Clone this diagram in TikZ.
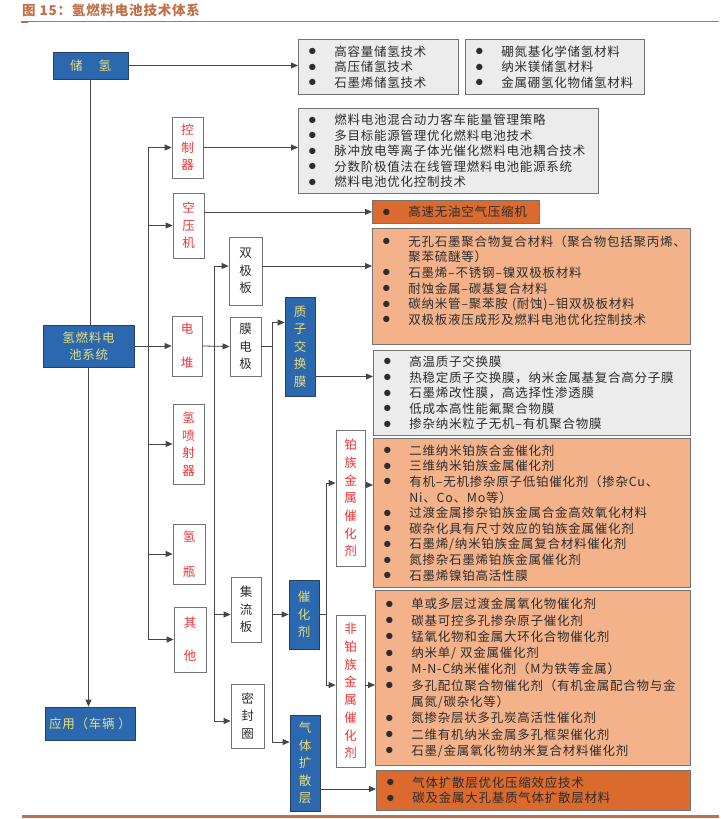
\documentclass[tikz,border=0pt]{standalone}
\usepackage{fontspec}
\usetikzlibrary{arrows.meta}
\newfontfamily\cjk{Noto Sans CJK SC}[LetterSpace=6]
\definecolor{barblue}{RGB}{44,104,176}
\definecolor{bluedark}{RGB}{40,64,100}
\definecolor{baryellow}{RGB}{232,222,120}
\definecolor{sidered}{RGB}{240,52,52}
\definecolor{inkgray}{RGB}{45,45,45}
\definecolor{boxgray}{RGB}{115,115,115}
\definecolor{linegray}{RGB}{70,70,70}
\definecolor{listgrey}{RGB}{236,236,236}
\definecolor{paleorange}{RGB}{244,178,138}
\definecolor{darkorange}{RGB}{218,106,46}
\definecolor{titlebrown}{RGB}{192,112,72}
\newcommand{\bitem}[1]{\makebox[26pt][l]{\raisebox{.5pt}{\scalebox{1.35}{$\bullet$}}}#1}
\newcommand{\bcont}[1]{\hspace*{26pt}#1}
\tikzset{
  ln/.style={draw=linegray, line width=.8pt},
  arr/.style={ln, -{Triangle[length=7pt,width=6pt]}},
  sidebox/.style={draw=boxgray, fill=white, line width=.8pt, inner sep=0pt, align=center, text=inkgray, font={\cjk\fontsize{12.5}{17.5}\selectfont}},
  redtxt/.style={text=sidered},
  bluebox/.style={sidebox, fill=barblue, draw=bluedark, text=baryellow},
  listbox/.style={anchor=north west, inner xsep=10pt, inner ysep=0pt, align=left, line width=.8pt, text=inkgray, font={\cjk\fontsize{12.5}{15.6}\selectfont}},
  greylist/.style={listbox, fill=listgrey, draw=boxgray},
  palelist/.style={listbox, fill=paleorange, draw=boxgray},
  darklist/.style={listbox, fill=darkorange, draw=boxgray}
}
\begin{document}
\begin{tikzpicture}[x=1pt,y=-1pt]
\path[fill=white] (0,0) rectangle (719,819);
\node[anchor=base west, inner sep=0pt, text=titlebrown, font={\cjk\bfseries\fontsize{13.5}{14}\selectfont}] (title) at (22,15) {图 15：氢燃料电池技术体系};
\draw[titlebrown, line width=.8pt] (22,21.5) -- (719,21.5);
\draw[titlebrown, line width=2pt] (21,21.5) -- (28,21.5);
\draw[titlebrown, line width=3pt] (22,816.5) -- (719,816.5);

\node[bluebox, minimum width=75pt, minimum height=27pt] (storage) at (90.5,65.5) {储\hspace{16pt}氢};
\node[bluebox, minimum width=91pt, minimum height=42pt] (system) at (88.5,346) {氢燃料电\\池系统};
\node[bluebox, minimum width=90pt, minimum height=33pt] (apply) at (90,723.5) {应用（车辆 ）};

\node[sidebox, redtxt, minimum width=31pt, minimum height=61pt] (ctrl) at (187.5,147.5) {控\\制\\器};
\node[sidebox, redtxt, minimum width=31pt, minimum height=65pt] (aircomp) at (188.5,225.5) {空\\压\\机};
\node[sidebox, redtxt, minimum width=30pt, minimum height=60pt] (stack) at (187,346) {电\\[16.5pt]堆};
\node[sidebox, redtxt, minimum width=31pt, minimum height=80pt] (injector) at (188.5,444) {氢\\喷\\射\\器};
\node[sidebox, redtxt, minimum width=32pt, minimum height=60pt] (bottle) at (189,554) {氢\\[17pt]瓶};
\node[sidebox, redtxt, minimum width=32pt, minimum height=65pt] (other) at (190,639.5) {其\\[15.5pt]他};

\node[sidebox, minimum width=33pt, minimum height=68pt] (bipolar) at (245.5,271) {双\\极\\板};
\node[sidebox, minimum width=31pt, minimum height=59pt] (mea) at (245.5,346.5) {膜\\电\\极};
\node[sidebox, minimum width=30pt, minimum height=65pt] (collector) at (246,609.5) {集\\流\\板};
\node[sidebox, minimum width=33pt, minimum height=64pt] (seal) at (247.5,716) {密\\封\\圈};

\node[bluebox, minimum width=30pt, minimum height=99pt] (pem) at (300,346.5) {质\\子\\交\\换\\膜};
\node[bluebox, minimum width=30pt, minimum height=69pt] (catalyst) at (304,614.5) {催\\化\\剂};
\node[bluebox, minimum width=30pt, minimum height=96pt] (gdl) at (305,763) {气\\体\\扩\\散\\层};

\node[sidebox, redtxt, minimum width=29pt, minimum height=136pt, font={\cjk\fontsize{12.5}{17.7}\selectfont}] (pt) at (350.5,498) {铂\\族\\金\\属\\催\\化\\剂};
\node[sidebox, redtxt, minimum width=29pt, minimum height=152pt, font={\cjk\fontsize{12.5}{17.7}\selectfont}] (nonpt) at (350.5,691) {非\\铂\\族\\金\\属\\催\\化\\剂};

\node[greylist, text width=140pt, minimum height=55pt] (h1) at (298,39) {\bitem{高容量储氢技术}\\ \bitem{高压储氢技术}\\ \bitem{石墨烯储氢技术}};
\node[greylist, text width=159pt, minimum height=55pt] (h2) at (465,39) {\bitem{硼氮基化学储氢材料}\\ \bitem{纳米镁储氢材料}\\ \bitem{金属硼氢化物储氢材料}};
\node[greylist, text width=280pt, minimum height=85pt] (h3) at (298,108) {\bitem{燃料电池混合动力客车能量管理策略}\\ \bitem{多目标能源管理优化燃料电池技术}\\ \bitem{脉冲放电等离子体光催化燃料电池耦合技术}\\ \bitem{分数阶极值法在线管理燃料电池能源系统}\\ \bitem{燃料电池优化控制技术}};
\node[darklist, text width=147pt, minimum height=23pt] (o1) at (372,200) {\bitem{高速无油空气压缩机}};
\node[palelist, text width=298pt, minimum height=116pt] (o2) at (372,228) {\bitem{无孔石墨聚合物复合材料（聚合物包括聚丙烯、}\\ \bcont{聚苯硫醚等）}\\ \bitem{石墨烯–不锈钢–镍双极板材料}\\ \bitem{耐蚀金属–碳基复合材料}\\ \bitem{碳纳米管–聚苯胺 (耐蚀)–钼双极板材料}\\ \bitem{双极板液压成形及燃料电池优化控制技术}\rule[-13pt]{0pt}{1pt}};
\node[greylist, text width=297pt, minimum height=85pt] (h4) at (373,350) {\bitem{高温质子交换膜}\\ \bitem{热稳定质子交换膜，纳米金属基复合高分子膜}\\ \bitem{石墨烯改性膜，高选择性渗透膜}\\ \bitem{低成本高性能氟聚合物膜}\\ \bitem{掺杂纳米粒子无机–有机聚合物膜}};
\node[palelist, text width=297pt, minimum height=149pt] (o3) at (373,438) {\bitem{二维纳米铂族合金催化剂}\\ \bitem{三维纳米铂族金属催化剂}\\ \bitem{有机–无机掺杂原子低铂催化剂（掺杂Cu、}\\ \bcont{Ni、Co、Mo等）}\\ \bitem{过渡金属掺杂铂族金属合金高效氧化材料}\\ \bitem{碳杂化具有尺寸效应的铂族金属催化剂}\\ \bitem{石墨烯/纳米铂族金属复合材料催化剂}\\ \bitem{氮掺杂石墨烯铂族金属催化剂}\\ \bitem{石墨烯镍铂高活性膜}};
\node[palelist, text width=295pt, minimum height=175pt, font={\cjk\fontsize{12.5}{16.3}\selectfont}] (o4) at (375,590) {\bitem{单或多层过渡金属氧化物催化剂}\\ \bitem{碳基可控多孔掺杂原子催化剂}\\ \bitem{锰氧化物和金属大环化合物催化剂}\\ \bitem{纳米单/ 双金属催化剂}\\ \bitem{M-N-C纳米催化剂（M为铁等金属）}\\ \bitem{多孔配位聚合物催化剂（有机金属配合物与金}\\ \bcont{属氮/碳杂化等）}\\ \bitem{氮掺杂层状多孔炭高活性催化剂}\\ \bitem{二维有机纳米金属多孔框架催化剂}\\ \bitem{石墨/金属氧化物纳米复合材料催化剂}};
\node[darklist, text width=294pt, minimum height=40pt] (o5) at (376,770) {\bitem{气体扩散层优化压缩效应技术}\\ \bitem{碳及金属大孔基质气体扩散层材料}};

\coordinate (bipIn) at ([yshift=5pt]bipolar.west);
\coordinate (bipOut) at ([yshift=5pt]bipolar.east);
\coordinate (colIn) at ([yshift=-5pt]collector.west);
\coordinate (sealIn) at ([yshift=-5pt]seal.west);
\coordinate (pemIn) at ([yshift=24pt]pem.west);
\coordinate (pemOut) at ([yshift=-30pt]pem.east);
\coordinate (gdlIn) at ([yshift=21pt]gdl.west);
\coordinate (gdlOut) at ([yshift=-26pt]gdl.east);
\coordinate (ptIn) at ([yshift=15pt]pt.west);
\coordinate (ptOut) at ([yshift=13pt]pt.east);
\coordinate (npIn) at ([yshift=6pt]nonpt.west);
\coordinate (npOut) at ([yshift=6pt]nonpt.east);
\coordinate (busA) at (148,0);
\coordinate (busB) at (214,0);
\coordinate (busC) at (272,0);
\coordinate (busD) at (326,0);

\draw[arr] (storage.east) -- (storage.east -| h1.west);
\draw[ln] (storage.south) -- (storage.south |- system.north);
\draw[arr] (system.south) -- (system.south |- apply.north);
\draw[arr] (system.east) -- (stack.west);
\draw[ln] (busA |- ctrl.west) -- (busA |- other.west);
\foreach \n in {ctrl,aircomp,injector,bottle,other} \draw[arr] (busA |- \n.west) -- (\n.west);
\draw[arr] (ctrl.east) -- (ctrl.east -| h3.west);
\draw[arr] (aircomp.east |- o1.west) -- (o1.west);

\draw[arr] (stack.east) -- (mea.west);
\draw[ln] (busB |- bipIn) -- (busB |- sealIn);
\foreach \p in {bipIn,colIn,sealIn} \draw[arr] (busB |- \p) -- (\p);
\draw[arr] (bipOut) -- (bipOut -| o2.west);

\draw[ln] (mea.east) -- (mea.east -| busC);
\draw[ln] (busC |- pemIn) -- (busC |- gdlIn);
\foreach \p in {pemIn,catalyst.west,gdlIn} \draw[arr] (busC |- \p) -- (\p);
\draw[arr] (pemOut) -- (pemOut -| h4.west);
\draw[arr] (gdlOut) -- (gdlOut -| o5.west);

\draw[ln] (catalyst.east) -- (catalyst.east -| busD);
\draw[ln] (busD |- ptIn) -- (busD |- npIn);
\foreach \p in {ptIn,npIn} \draw[arr] (busD |- \p) -- (\p);
\draw[arr] (ptOut) -- (ptOut -| o3.west);
\draw[arr] (npOut) -- (npOut -| o4.west);
%\draw (0,0) grid[step=50] (719,819);
\end{tikzpicture}
\end{document}
